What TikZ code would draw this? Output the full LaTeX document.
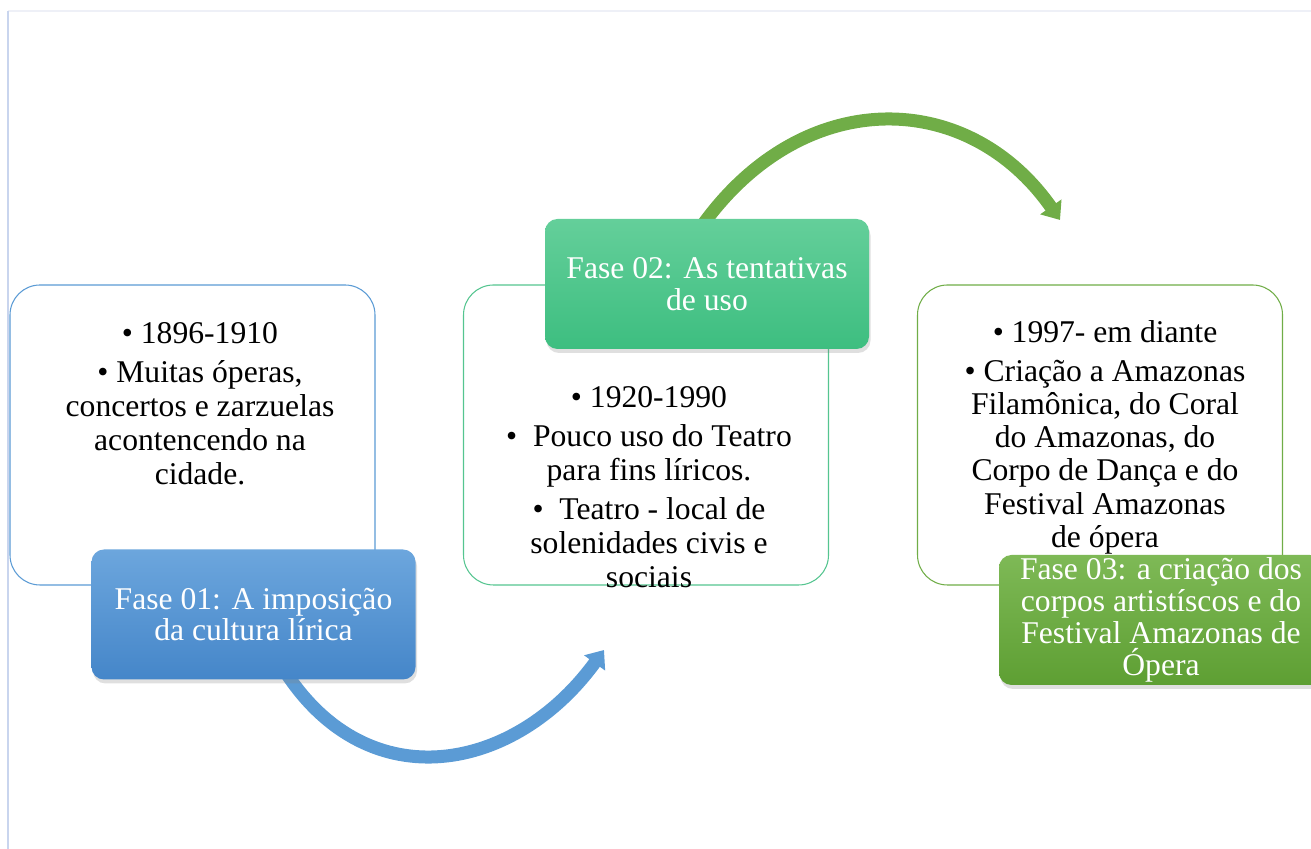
\documentclass[tikz,border=0pt]{standalone}
\usepackage{fontspec}
\setmainfont{Liberation Serif}
\usetikzlibrary{arrows.meta, positioning, shadows, backgrounds}
\definecolor{blueline}{HTML}{5B9BD5}
\definecolor{mintline}{HTML}{55C590}
\definecolor{leafline}{HTML}{70AD47}
\definecolor{bluetop}{HTML}{6CA6DD}
\definecolor{bluebot}{HTML}{4586C9}
\definecolor{minttop}{HTML}{64CF9A}
\definecolor{mintbot}{HTML}{3DBE80}
\definecolor{leaftop}{HTML}{7EB956}
\definecolor{leafbot}{HTML}{5E9F33}
\definecolor{framegray}{HTML}{EEF0F7}
\definecolor{frameblue}{HTML}{C9D5EE}

\begin{document}
\begin{tikzpicture}[
        every node/.style={font=\fontsize{18}{19.3}\selectfont, align=center},
        textbox/.style={draw, line width=0.6pt, fill=white, rounded corners=0.6cm,
          minimum width=7.3cm, minimum height=6cm},
        fasebox/.style={rounded corners=0.25cm, minimum width=6.48cm, minimum height=2.6cm,
          inner sep=1pt, text=white, font=\fontsize{18}{18.2}\selectfont,
          drop shadow={shadow xshift=0.03cm, shadow yshift=-0.08cm, opacity=0.25}},
        bigarrow/.style={line width=0.26cm, -{Triangle[length=0.32cm, width=0.5cm]}},
        ]

        \useasboundingbox (0,0) rectangle (26.22,16.98);
        \clip (0,0) rectangle (26.22,16.98);
        \draw[framegray, line width=0.8pt] (0.16,16.76) -- (26.22,16.76);
        \draw[frameblue, line width=0.8pt] (0.16,0) -- (0.16,16.76);

        \node[textbox, draw=blueline] (box_1) at (3.85,8.28) {};
        \node[textbox, draw=mintline] (box_2) at (12.92,8.28) {};
        \node[textbox, draw=leafline] (box_3) at (22.0,8.28) {};

        \node (txt_1) at (4.0,8.91) {\textbullet\ 1896-1910\\[3pt]
          \textbullet\ Muitas óperas,\\ concertos e zarzuelas\\ acontencendo na\\ cidade.};
        \node (txt_2) at (12.98,7.24) {\textbullet\ 1920-1990\\[3pt]
          \textbullet\enspace Pouco uso do Teatro\\ para fins líricos.\\[3pt]
          \textbullet\enspace Teatro - local de\\ solenidades civis e\\ sociais};
        \node[font=\fontsize{18}{18.9}\selectfont] (txt_3) at (22.1,8.23)
          {\textbullet\ 1997- em diante\\[3pt]
          \textbullet\ Criação a Amazonas\\ Filamônica, do Coral\\ do Amazonas, do\\
          Corpo de Dança e do\\ Festival Amazonas\\ de ópera};

        \node[fasebox, top color=bluetop, bottom color=bluebot] (fase_1)
          at (5.07,4.69) {Fase 01: A imposição\\ da cultura lírica};
        \node[fasebox, top color=minttop, bottom color=mintbot] (fase_2)
          at (14.14,11.3) {Fase 02: As tentativas\\ de uso};
        \node[fasebox, top color=leaftop, bottom color=leafbot] (fase_3)
          at (23.22,4.58) {Fase 03: a criação dos\\ corpos artistíscos e do\\
          Festival Amazonas de\\ Ópera};

        \coordinate (tip_1) at (12.08,3.98);
        \coordinate (tip_2) at (21.2,12.58);
        \begin{scope}[on background layer]
          \draw[bigarrow, blueline] ([xshift=0.63cm, yshift=0.17cm]fase_1.south)
            .. controls +(-57:3.1) and +(-126:3.0) .. (tip_1);
          \draw[bigarrow, leafline] ([xshift=-0.14cm, yshift=-0.2cm]fase_2.north)
            .. controls +(55:3.5) and +(125:3.25) .. (tip_2);
        \end{scope}
      \end{tikzpicture}
\end{document}
